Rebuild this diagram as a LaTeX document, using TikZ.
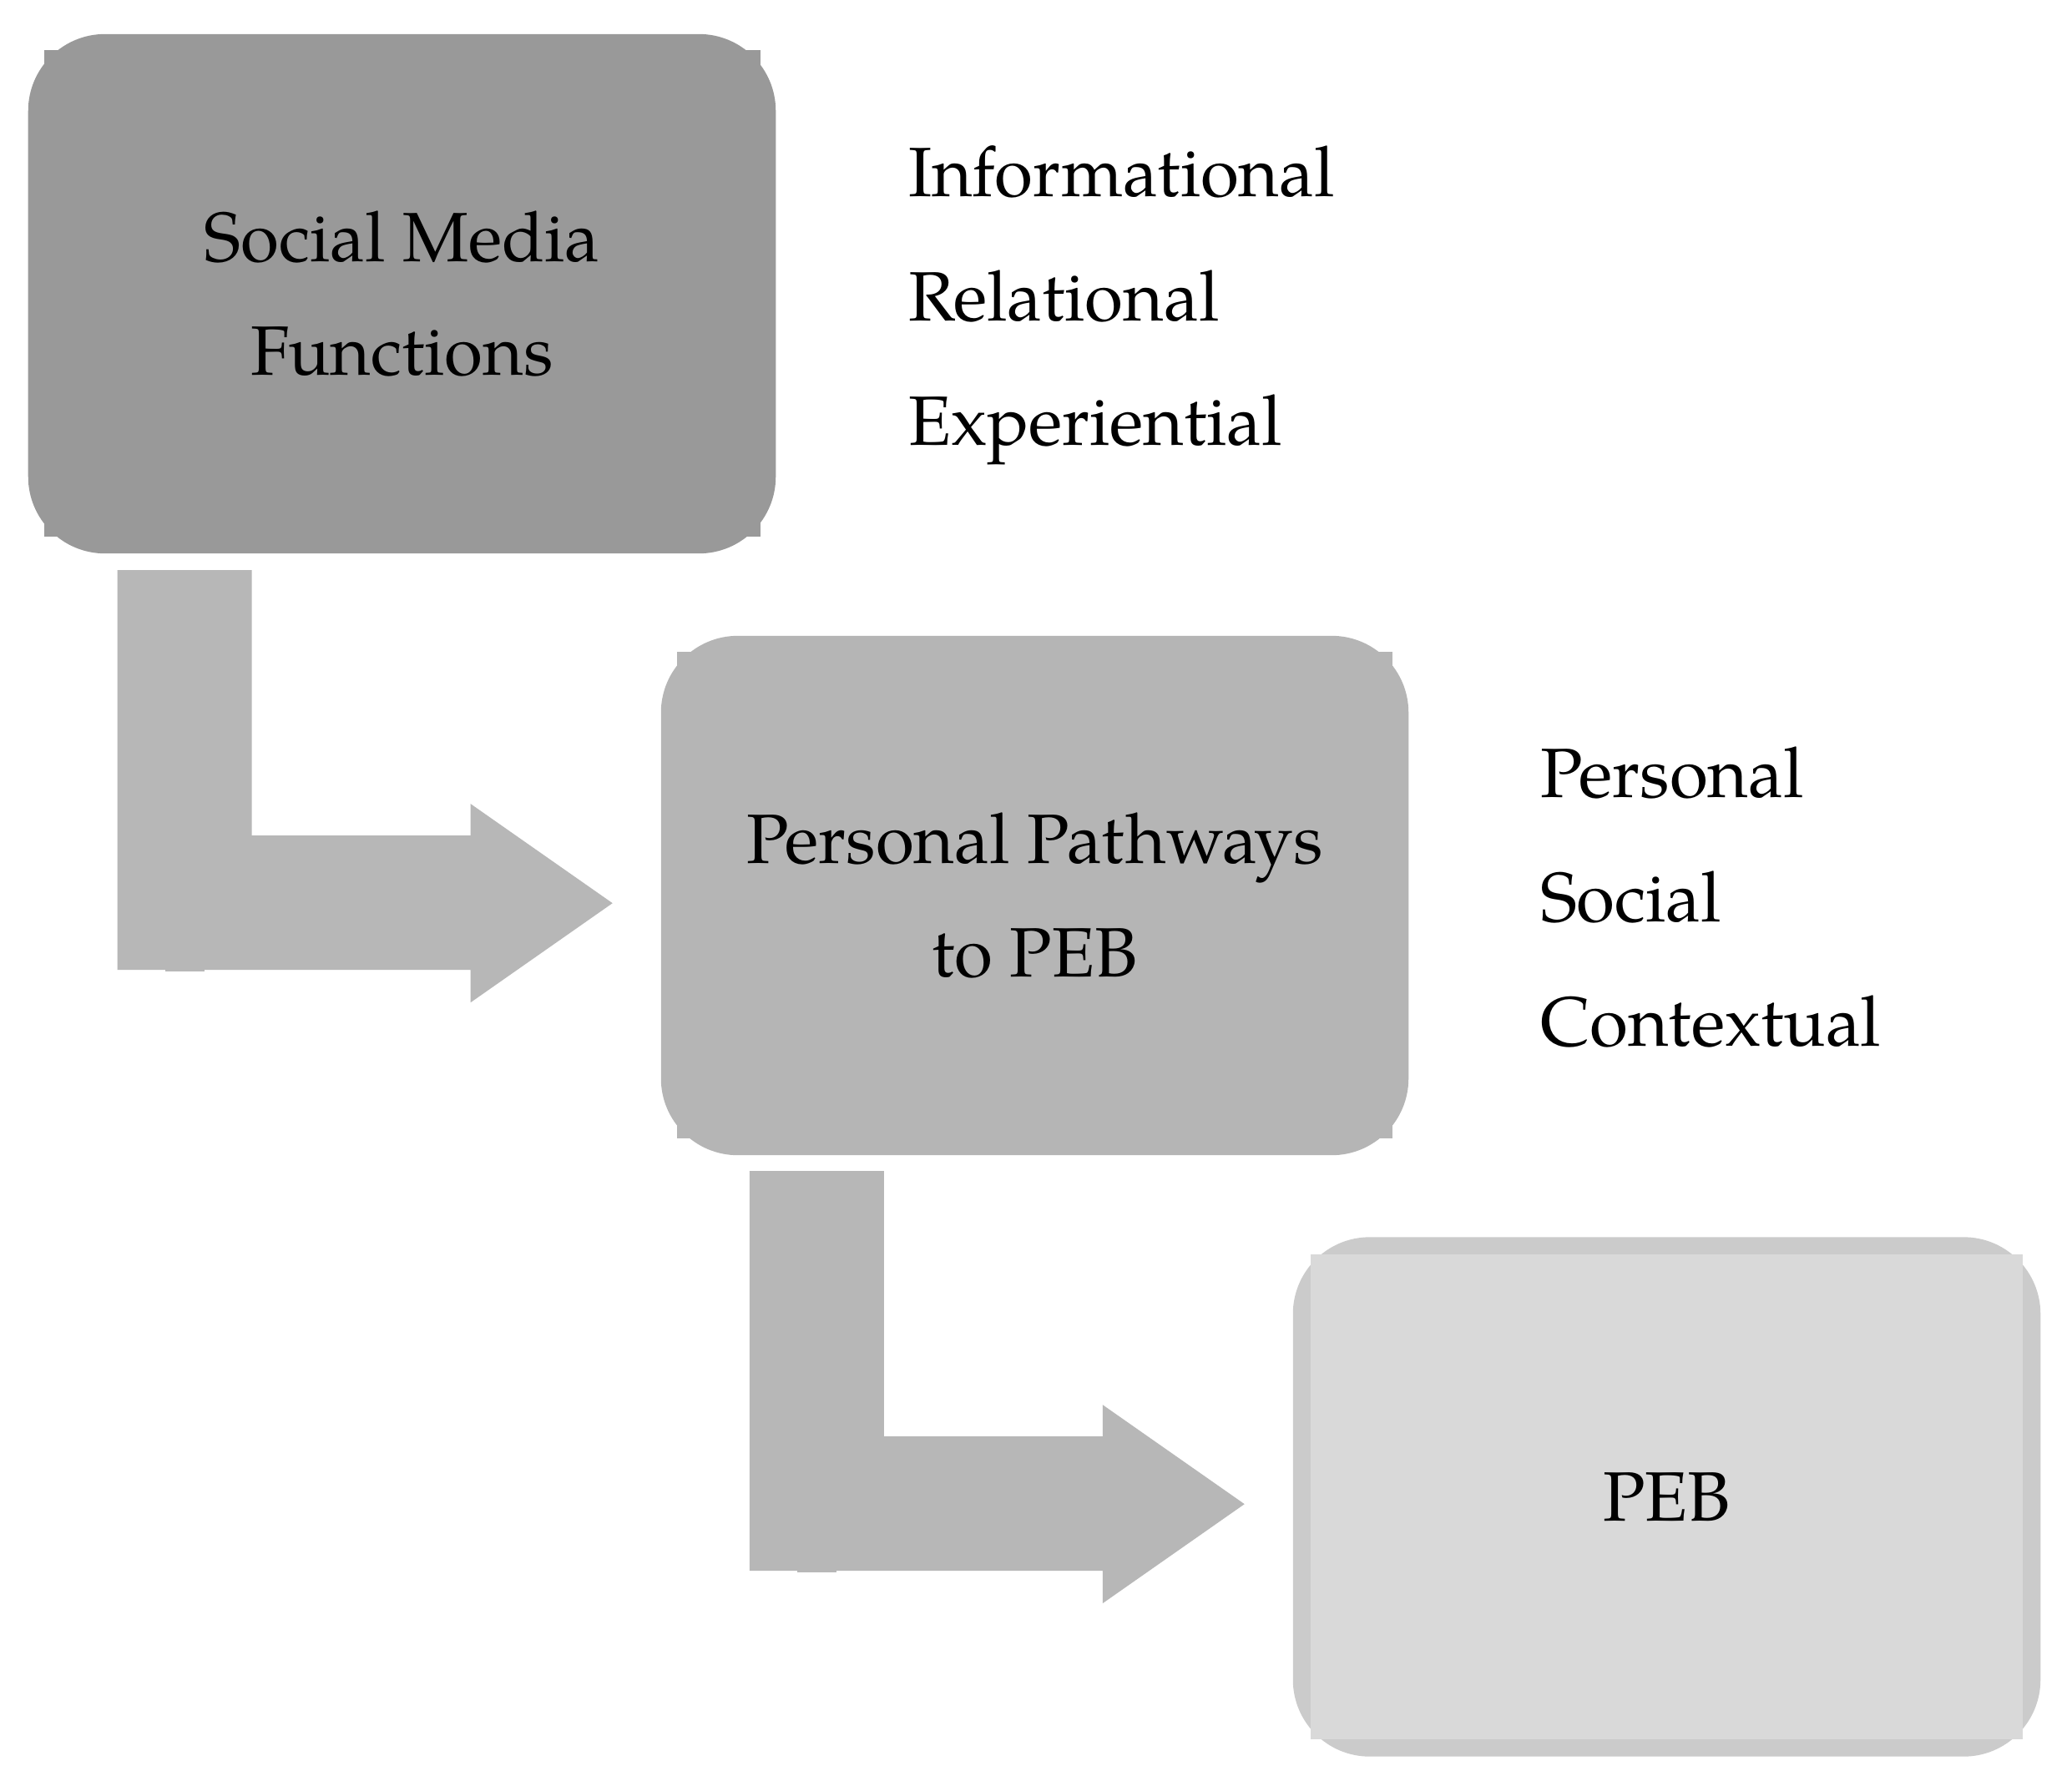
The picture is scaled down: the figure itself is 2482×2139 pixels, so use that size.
\documentclass[tikz,border=0pt]{standalone}
\usepackage{fontspec}
\setmainfont{TeX Gyre Pagella}
\usetikzlibrary{calc}
\definecolor{boxA}{HTML}{999999}
\definecolor{boxB}{HTML}{B5B5B5}
\definecolor{boxCout}{HTML}{CBCBCB}
\definecolor{boxCin}{HTML}{D9D9D9}
\definecolor{arrowgray}{HTML}{B7B7B7}
\pgfdeclarelayer{shapeback}
\pgfdeclarelayer{shapemid}
\pgfsetlayers{shapeback,shapemid,main}
\begin{document}
\begin{tikzpicture}[x=0.01cm,y=-0.01cm,
  boxtext/.style={rectangle, minimum width=8.95cm, minimum height=6.22cm,
    inner sep=0pt, outer sep=0pt, align=center,
    font=\fontsize{23.8pt}{38.6pt}\selectfont},
  listtext/.style={anchor=base west, inner sep=0pt, outer sep=0pt,
    font=\fontsize{23.8pt}{28pt}\selectfont},
  roundfill/.style={rounded corners=0.92cm},
  blockarrow/.style={fill=arrowgray}]
\useasboundingbox (0,0) rectangle (2482,2139);

% boxes with their texts
\node[boxtext] (smf) at (481.5,352) {Social Media\\Functions};
\node[boxtext] (ppp) at (1239.5,1073) {Personal Pathways\\to PEB};
\node[boxtext] (peb) at (1996.5,1793.5) {PEB};

\begin{pgfonlayer}{shapeback}
  \fill[boxA, roundfill] (smf.north west) rectangle (smf.south east);
  \fill[boxB, roundfill] (ppp.north west) rectangle (ppp.south east);
  \fill[boxCout, roundfill] (peb.north west) rectangle (peb.south east);
\end{pgfonlayer}
\begin{pgfonlayer}{shapemid}
  \fill[boxA] ([shift={(19,19)}]smf.north west) rectangle ([shift={(-18,-20)}]smf.south east);
  \fill[boxB] ([shift={(19,19)}]ppp.north west) rectangle ([shift={(-19,-20)}]ppp.south east);
  \fill[boxCin] ([shift={(21,21)}]peb.north west) rectangle ([shift={(-21,-21)}]peb.south east);
\end{pgfonlayer}

% side lists
\node[listtext] (inf) at (1088,235) {Informational};
\node[listtext] (rel) at (1088,384) {Relational};
\node[listtext] (exq) at (1088,533) {Experiential};
\node[listtext] (per) at (1845,955) {Personal};
\node[listtext] (soc) at (1845,1104) {Social};
\node[listtext] (ctx) at (1845,1253) {Contextual};

% bent block arrows
\coordinate (a1) at ([shift={(107,20)}]smf.south west);
\fill[blockarrow] (a1) -- ++(161,0) -- ++(0,318) -- ++(262,0) -- ++(0,-38)
  -- ++(170,119) -- ++(-170,119) -- ++(0,-39) -- ++(-423,0) -- cycle;
\fill[blockarrow] ([shift={(57,476)}]a1) rectangle ++(47,5);

\coordinate (a2) at ([shift={(106,19)}]ppp.south west);
\fill[blockarrow] (a2) -- ++(161,0) -- ++(0,318) -- ++(262,0) -- ++(0,-38)
  -- ++(170,119) -- ++(-170,119) -- ++(0,-39) -- ++(-423,0) -- cycle;
\fill[blockarrow] ([shift={(57,476)}]a2) rectangle ++(47,5);
\end{tikzpicture}
\end{document}
